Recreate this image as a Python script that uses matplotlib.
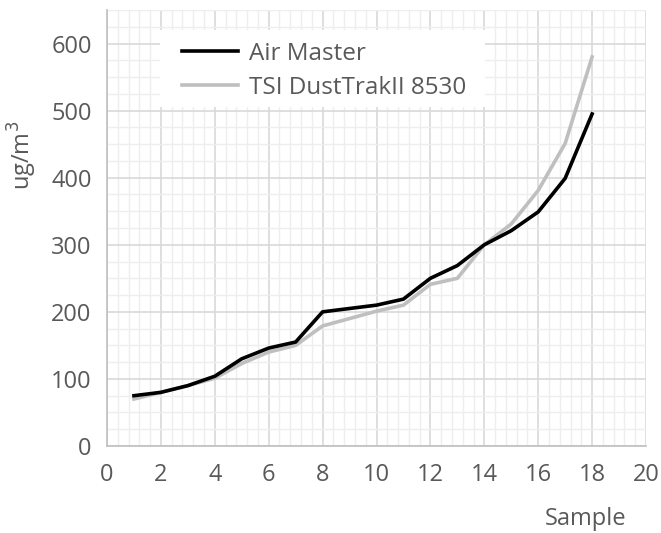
import matplotlib.pyplot as plt
from matplotlib.ticker import MultipleLocator
from matplotlib.patches import Rectangle

plt.rcParams['font.family'] = ['Open Sans', 'DejaVu Sans']

samples = list(range(1, 19))
air_master = [75, 80, 90, 104, 130, 146, 155, 200, 205, 210, 219, 250, 269, 300, 321, 349, 399, 495]
tsi_dusttrak = [70, 80, 90, 101, 123, 140, 150, 179, 190, 201, 210, 241, 250, 300, 331, 381, 451, 580]

txt = '#595959'

fig = plt.figure(figsize=(6.61, 5.33), dpi=100)
ax = fig.add_axes([107/661, (533-446)/533, 539/661, 436/533])

ax.plot(samples, air_master, color='black', lw=2.6, label='Air Master', zorder=3)
ax.plot(samples, tsi_dusttrak, color='#bfbfbf', lw=2.6, label='TSI DustTrakII 8530', zorder=2)

ax.set_xlim(0, 20)
ax.set_ylim(0, 650)
ax.xaxis.set_major_locator(MultipleLocator(2))
ax.xaxis.set_minor_locator(MultipleLocator(0.4))
ax.yaxis.set_major_locator(MultipleLocator(100))
ax.yaxis.set_minor_locator(MultipleLocator(25))
ax.set_yticks(range(0, 601, 100))

ax.grid(which='major', color='#d9d9d9', lw=1.2)
ax.grid(which='minor', color='#eeeeee', lw=1.0)
ax.set_axisbelow(True)
ax.axhline(650, color='#d9d9d9', lw=1.2, zorder=0)

for s in ['top', 'right']:
    ax.spines[s].set_visible(False)
for s in ['left', 'bottom']:
    ax.spines[s].set_color('#bfbfbf')
    ax.spines[s].set_linewidth(1.2)

ax.tick_params(which='both', length=0, labelsize=17, colors=txt)
ax.tick_params(axis='y', pad=11)
ax.tick_params(axis='x', pad=12)

fig.text(22/661, 1 - 155/533, 'ug/m$^3$', fontsize=17, color=txt, rotation=90,
         ha='center', va='center')
fig.text(586/661, 1 - 519/533, 'Sample', fontsize=17, color=txt, ha='center', va='center')

# white legend background
ax.add_patch(Rectangle((53/539, (446-107)/436), 325/539, 77/436, transform=ax.transAxes,
                       facecolor='white', edgecolor='none', zorder=1.5))

leg = ax.legend(loc='upper left', bbox_to_anchor=(75/539, (446-42)/436), fontsize=17.5,
                frameon=False, handlelength=2.3, handletextpad=0.45, labelspacing=0.4,
                borderpad=0, borderaxespad=0)
for t in leg.get_texts():
    t.set_color(txt)

fig.savefig('out.png', dpi=100)
